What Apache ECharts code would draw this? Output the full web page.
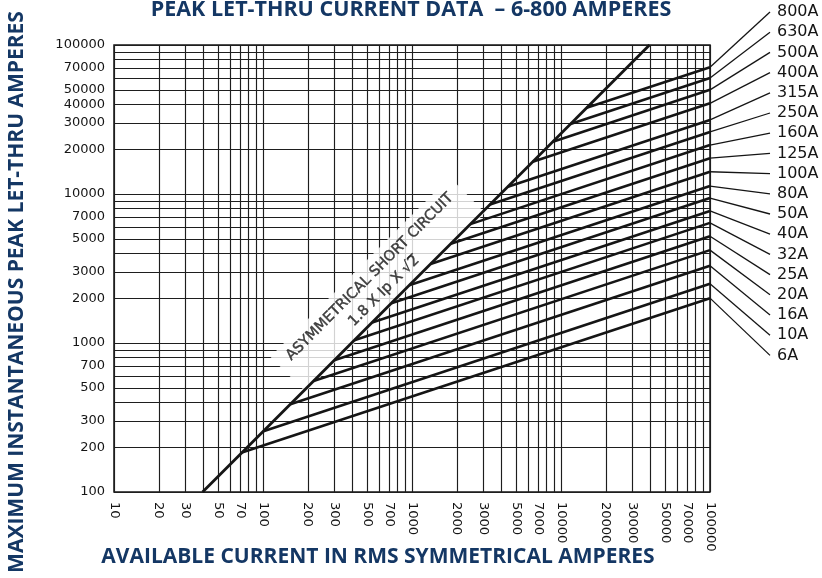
<!DOCTYPE html>
<html><head><meta charset="utf-8">
<script src="https://cdn.jsdelivr.net/npm/echarts@6/dist/echarts.min.js"></script>
<style>html,body{margin:0;padding:0;background:#fff}#c{width:822px;height:578px}</style>
</head><body><div id="c"></div>
<script>
// ---- data ----
const fuseRatings = ['800A','630A','500A','400A','315A','250A','160A','125A','100A','80A','50A','40A','32A','25A','20A','16A','10A','6A'];
// point where each fuse curve leaves the asymmetrical short-circuit line [available A, peak A]
const fuseStart = [[14870,37860],[11570,29460],[8815,22440],[6457,16440],[4400,11200],[3338,8500],[2466,6278],[1823,4641],[1332,3391],[957,2437],[727,1851],[540,1375],[410,1043],[300.6,765],[218.5,556],[152.5,388],[100.7,256],[72.2,184]];
// peak let-thru at the right edge (100000 A available)
const endCurrent = 100000;
const fuseEnd = [71000,60000,50000,40600,31400,26100,21300,17400,14100,11300,9400,7700,6400,5200,4200,3300,2500,2000];
// asymmetrical short circuit line 1.8 x Ip x sqrt2
const asymLine = [[39.3,100],[39270,100000]];
const noteAnchor = [588.6, 2462];
// axis grid / label values
const xGrid = [10,20,30,40,50,60,70,80,90,100,200,300,400,500,600,700,800,900,1000,2000,3000,4000,5000,6000,7000,8000,9000,10000,20000,30000,40000,50000,60000,70000,80000,90000,100000];
const xLabels = [10,20,30,50,70,100,200,300,500,700,1000,2000,3000,5000,7000,10000,20000,30000,50000,70000,100000];
const yGrid = [100,200,300,400,500,600,700,800,900,1000,2000,3000,4000,5000,6000,7000,8000,9000,10000,20000,30000,40000,50000,60000,70000,80000,90000,100000];
const yLabels = [100,200,300,500,700,1000,2000,3000,5000,7000,10000,20000,30000,40000,50000,70000,100000];

const NAVY = '#143764';
const INK = '#151515';
const chart = echarts.init(document.getElementById('c'), null, {renderer:'canvas'});

const series = [];
fuseRatings.forEach((name, i) => {
  series.push({
    name, type:'line', z:3, showSymbol:false, silent:true, animation:false,
    data:[fuseStart[i], [endCurrent, fuseEnd[i]]],
    lineStyle:{color:INK, width:2.6}
  });
});
series.push({
  name:'asym', type:'line', z:3, showSymbol:false, silent:true,
  data:asymLine, lineStyle:{color:INK, width:2.8}
});
series.push({
  name:'note', type:'scatter', z:1, silent:true, symbolSize:1,
  itemStyle:{color:'rgba(0,0,0,0)'},
  data:[noteAnchor],
  label:{
    show:true, position:'inside', rotate:45,
    formatter:'{a|ASYMMETRICAL SHORT CIRCUIT}\n{a|1.8 X Ip X √2̅}',
    backgroundColor:'#fff', padding:[4,12,6,12],
    rich:{a:{fontFamily:'DejaVu Sans', fontSize:14.5, lineHeight:20, color:INK, align:'center',
      textBorderColor:INK, textBorderWidth:0.4}}
  }
});

const fmt = v => String(Math.round(v));
const option = {
  animation:false,
  backgroundColor:'#fff',
  title:{
    text:'PEAK LET-THRU CURRENT DATA  \u2013 6-800 AMPERES',
    left:'center', top:-1, padding:[0,0,0,0],
    textStyle:{fontFamily:'Open Sans', fontWeight:'bold', fontSize:21.5, color:NAVY}
  },
  grid:{left:114, right:112, top:45, bottom:86, show:true, borderColor:INK, borderWidth:1.5, backgroundColor:'transparent'},
  xAxis:{
    type:'log', logBase:10, min:10, max:100000,
    axisLine:{show:false},
    axisTick:{show:false, customValues:xGrid},
    splitLine:{show:true, lineStyle:{color:'#1e1e1e', width:1.15}},
    minorSplitLine:{show:false},
    axisLabel:{customValues:xLabels, rotate:-90, margin:10, formatter:fmt,
      fontFamily:'DejaVu Sans', fontSize:13, color:INK}
  },
  yAxis:{
    type:'log', logBase:10, min:100, max:100000,
    axisLine:{show:false},
    axisTick:{show:false, customValues:yGrid},
    splitLine:{show:true, lineStyle:{color:'#1e1e1e', width:1.15}},
    axisLabel:{customValues:yLabels, margin:9, formatter:fmt,
      fontFamily:'DejaVu Sans', fontSize:13, color:INK}
  },
  series
};
chart.setOption(option);

// right-hand rating labels with leader lines
const labelTop = 12, labelStep = 20.2, leaderX = 770, textX = 777;
const g = [
  {type:'text', x:17, y:292, rotation:Math.PI/2, silent:true,
   style:{text:'MAXIMUM INSTANTANEOUS PEAK LET-THRU AMPERES', font:'bold 21px "Open Sans"', fill:NAVY, textAlign:'center', textVerticalAlign:'middle'}},
  {type:'text', x:378, y:557, silent:true,
   style:{text:'AVAILABLE CURRENT IN RMS SYMMETRICAL AMPERES', font:'bold 21px "Open Sans"', fill:NAVY, textAlign:'center', textVerticalAlign:'middle'}}
];
fuseRatings.forEach((name, i) => {
  const p = chart.convertToPixel({gridIndex:0}, [endCurrent, fuseEnd[i]]);
  const ly = labelTop + i * labelStep;
  g.push({type:'line', silent:true, shape:{x1:p[0], y1:p[1], x2:leaderX, y2:ly}, style:{stroke:INK, lineWidth:1.3}});
  g.push({type:'text', silent:true, x:textX, y:ly, style:{text:name, font:'16px "DejaVu Sans"', fill:INK, textVerticalAlign:'middle'}});
});
chart.setOption({graphic:g});
</script>
</body></html>
